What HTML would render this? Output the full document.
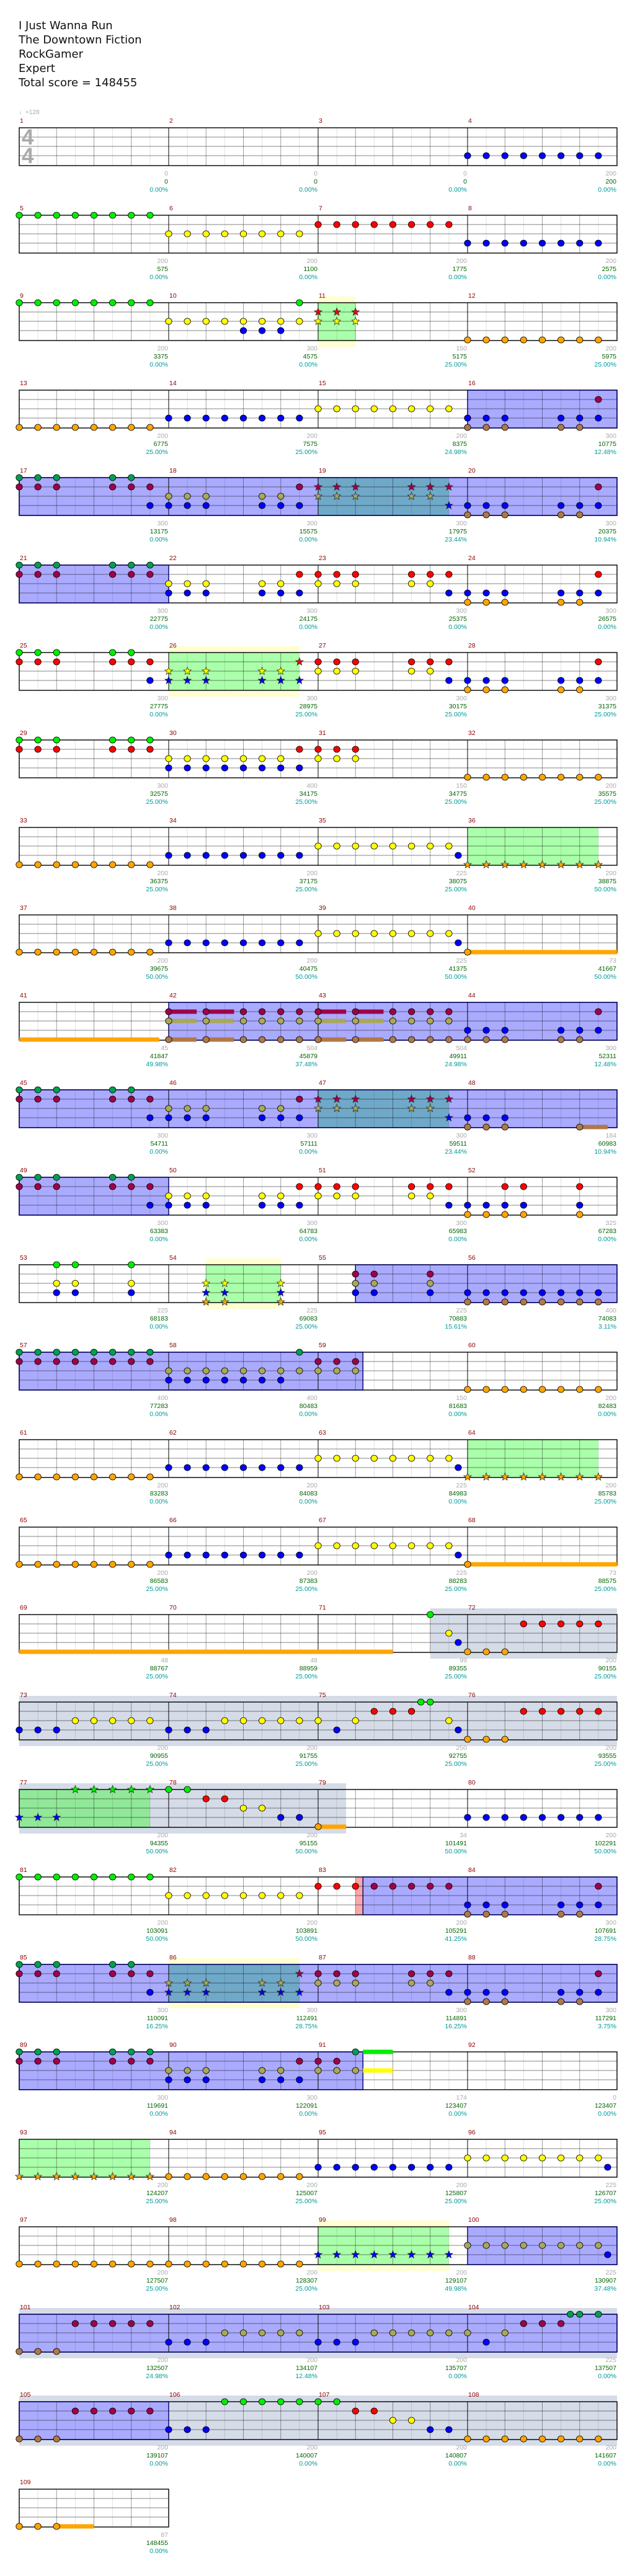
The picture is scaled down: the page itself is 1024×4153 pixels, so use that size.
<!DOCTYPE html>
<html><head><meta charset="utf-8">
<style>
html,body{margin:0;padding:0;background:#fff;}
body{width:1024px;height:4153px;position:relative;overflow:hidden;}
.title{position:absolute;left:30px;top:30px;font-family:"DejaVu Sans","Liberation Sans",sans-serif;font-size:18px;line-height:23px;color:#111;}
svg{position:absolute;left:0;top:0;}
</style></head>
<body>
<div class="title">I Just Wanna Run<br>The Downtown Fiction<br>RockGamer<br>Expert<br>Total score = 148455</div>
<svg id="s" width="1024" height="4153" xmlns="http://www.w3.org/2000/svg" font-family="Liberation Sans, sans-serif">
<text x="31" y="184" font-size="10" fill="#aaa">♩=128</text>
<text x="35" y="233" font-size="35" font-weight="bold" fill="#aaa">4</text>
<text x="35" y="263" font-size="35" font-weight="bold" fill="#aaa">4</text>
</svg>
<script>
const T=r=>206+141*r, X=p=>31+p*30.125;
const seq=(a,b)=>{let r=[];for(let i=a;i<=b;i++)r.push(i);return r};
const N=(l,arr,k)=>arr.map(p=>[l,p,k||'n']);
const off=(arr,o)=>arr.map(v=>v+o);
const P5=[0,1,2,5,6],P6=[0,1,2,5,6,7];
const A=o=>[...N(0,off(P5,o)),...N(1,off(P6,o)),...N(3,[7+o])];
const A2=o=>[...N(0,off(P6,o)),...N(1,off(P6,o))];
const B=o=>[...N(2,off(P5,o)),...N(3,off(P6,o)),...N(1,[7+o])];
const C=o=>[...N(1,off(P6,o)),...N(2,off(P5,o)),...N(3,[7+o])];
const D=o=>[...N(3,off(P6,o)),...N(4,off(P5,o)),...N(1,[7+o])];
const L=s=>s.split('|').map(x=>x.split(' '));
const STAR19=[...N(1,[16,17,18,21,22,23],'s'),...N(2,[16,17,18,21,22],'s'),...N(3,[23],'s')];
const STAR26=o=>[...N(2,off([0,1,2,5,6],o),'s'),...N(3,off([0,1,2,5,6,7],o),'s'),...N(1,[7+o],'s')];
const R8={reg:[['ph',24,31]],notes:[...N(4,seq(0,7)),...N(3,seq(8,15)),...N(2,seq(16,23)),...N(3,[23.5]),...N(4,seq(24,31),'s')]};
const R9={reg:[],sus:[[4,24,32]],notes:[...N(4,seq(0,7)),...N(3,seq(8,15)),...N(2,seq(16,23)),...N(3,[23.5]),...N(4,[24])]};
const ch10=[8,10,12,13,14,15,16,18,20,21,22,23];
const rows=[
{reg:[],notes:N(3,seq(24,31)),lab:L('0 0 0.00%|0 0 0.00%|0 0 0.00%|200 200 0.00%')},
{reg:[],notes:[...N(0,seq(0,7)),...N(2,seq(8,15)),...N(1,seq(16,23)),...N(3,seq(24,31))],lab:L('200 575 0.00%|200 1100 0.00%|200 1775 0.00%|200 2575 0.00%')},
{reg:[['band',16,18],['ph',16,18]],notes:[...N(0,seq(0,7)),...N(2,seq(8,15)),...N(3,[12,13,14]),...N(0,[15]),...N(1,[16,17,18],'s'),...N(2,[16,17,18],'s'),...N(4,seq(24,31))],lab:L('200 3375 0.00%|300 4575 0.00%|150 5175 25.00%|200 5975 25.00%')},
{reg:[['sp',24,32]],notes:[...N(4,seq(0,7)),...N(3,seq(8,15)),...N(2,seq(16,23)),...D(24)],lab:L('200 6775 25.00%|200 7575 25.00%|200 8375 24.98%|300 10775 12.48%')},
{reg:[['sp',0,32],['teal',16,23]],notes:[...A(0),...B(8),...STAR19,...D(24)],lab:L('300 13175 0.00%|300 15575 0.00%|300 17975 23.44%|300 20375 10.94%')},
{reg:[['sp',0,8]],notes:[...A2(0),...B(8),...C(16),...D(24)],lab:L('300 22775 0.00%|300 24175 0.00%|300 25375 0.00%|300 26575 0.00%')},
{reg:[['band',8,15],['ph',8,15]],notes:[...A(0),...STAR26(8),...C(16),...D(24)],lab:L('300 27775 0.00%|300 28975 25.00%|300 30175 25.00%|300 31375 25.00%')},
{reg:[],notes:[...A2(0),...N(2,seq(8,14)),...N(3,seq(8,15)),...N(1,[15,16,17,18]),...N(2,[16,17,18]),...N(4,seq(24,31))],lab:L('300 32575 25.00%|400 34175 25.00%|150 34775 25.00%|200 35575 25.00%')},
{...R8,lab:L('200 36375 25.00%|200 37175 25.00%|225 38075 25.00%|200 38875 50.00%')},
{...R9,lab:L('200 39675 50.00%|200 40475 50.00%|225 41375 50.00%|73 41667 50.00%')},
{reg:[['sp',8,32]],sus:[[4,0,7.5],[1,8,9.5],[2,8,9.5],[4,8,9.5],[1,10,11.5],[2,10,11.5],[4,10,11.5],[1,16,17.5],[2,16,17.5],[4,16,17.5],[1,18,19.5],[2,18,19.5],[4,18,19.5]],notes:[...N(1,ch10),...N(2,ch10),...N(4,ch10),...D(24)],lab:L('45 41847 49.98%|504 45879 37.48%|504 49911 24.98%|300 52311 12.48%')},
{reg:[['sp',0,32],['teal',16,23]],sus:[[4,30,31.5]],notes:[...A(0),...B(8),...STAR19,...N(3,[24,25,26]),...N(4,[24,25,26,30])],lab:L('300 54711 0.00%|300 57111 0.00%|300 59511 23.44%|184 60983 10.94%')},
{reg:[['sp',0,8]],notes:[...A(0),...B(8),...C(16),...N(3,[24,25,26,27,30]),...N(4,[24,25,26,27,30]),...N(1,[26,27,30])],lab:L('300 63383 0.00%|300 64783 0.00%|300 65983 0.00%|325 67283 0.00%')},
{reg:[['band',10,14],['ph',10,14],['sp',18,32]],notes:[...N(0,[2,3,6]),...N(2,[2,3,6]),...N(3,[2,3,6]),...N(2,[10,11,14],'s'),...N(3,[10,11,14],'s'),...N(4,[10,11,14],'s'),...N(1,[18,19,22]),...N(2,[18,19,22]),...N(3,[18,19,22]),...N(3,seq(24,31)),...N(4,seq(24,31))],lab:L('225 68183 0.00%|225 69083 25.00%|225 70883 15.61%|400 74083 3.11%')},
{reg:[['sp',0,18.4]],notes:[...N(0,seq(0,7)),...N(1,seq(0,7)),...N(2,seq(8,18)),...N(3,seq(8,14)),...N(0,[15]),...N(1,[16,17,18]),...N(4,seq(24,31))],lab:L('400 77283 0.00%|400 80483 0.00%|150 81683 0.00%|200 82483 0.00%')},
{...R8,lab:L('200 83283 0.00%|200 84083 0.00%|225 84983 0.00%|200 85783 25.00%')},
{...R9,lab:L('200 86583 25.00%|200 87383 25.00%|225 88283 25.00%|73 88575 25.00%')},
{reg:[['solo',22,32]],sus:[[4,0,20]],notes:[...N(0,[22]),...N(2,[23]),...N(3,[23.5]),...N(4,[24,25,26]),...N(1,seq(27,31))],lab:L('48 88767 25.00%|48 88959 25.00%|99 89355 25.00%|200 90155 25.00%')},
{reg:[['solo',0,32]],notes:[...N(3,[0,1,2]),...N(2,seq(3,7)),...N(3,[8,9,10]),...N(2,seq(11,16)),...N(3,[17]),...N(2,[18]),...N(1,[19,20,21]),...N(0,[21.5,22]),...N(2,[23]),...N(3,[23.5]),...N(4,[24,25,26]),...N(1,seq(27,31))],lab:L('200 90955 25.00%|200 91755 25.00%|250 92755 25.00%|200 93555 25.00%')},
{reg:[['solo',0,17.5],['ph2',0,7]],sus:[[4,16,17.5]],notes:[...N(3,[0,1,2],'s'),...N(0,seq(3,7),'s'),...N(0,[8,9]),...N(1,[10,11]),...N(2,[12,13]),...N(3,[14,15]),...N(4,[16]),...N(3,seq(24,31))],lab:L('200 94355 50.00%|200 95155 50.00%|34 101491 50.00%|200 102291 50.00%')},
{reg:[['pink',18,18.4],['sp',18.4,32]],notes:[...N(0,seq(0,7)),...N(2,seq(8,15)),...N(1,seq(16,23)),...D(24)],lab:L('200 103091 50.00%|200 103891 50.00%|200 105291 41.25%|300 107691 28.75%')},
{reg:[['band',8,15],['sp',0,32],['teal',8,15]],notes:[...A(0),...STAR26(8),...C(16),...D(24)],lab:L('300 110091 16.25%|300 112491 28.75%|300 114891 16.25%|300 117291 3.75%')},
{reg:[['sp',0,18.4]],sus:[[0,18.4,20,1],[2,18.4,20,1]],notes:[...A2(0),...B(8),...N(1,[16,17]),...N(2,[16,17,18]),...N(0,[18])],lab:L('300 119691 0.00%|300 122091 0.00%|174 123407 0.00%|0 123407 0.00%')},
{reg:[['ph',0,7]],notes:[...N(4,seq(0,7),'s'),...N(4,seq(8,15)),...N(3,seq(16,23)),...N(2,seq(24,31)),...N(3,[31.5])],lab:L('200 124207 25.00%|200 125007 25.00%|200 125807 25.00%|225 126707 25.00%')},
{reg:[['band',16,23],['ph',16,23],['sp',24,32]],notes:[...N(4,seq(0,15)),...N(3,seq(16,23),'s'),...N(2,seq(24,31)),...N(3,[31.5])],lab:L('200 127507 25.00%|200 128307 25.00%|200 129107 49.98%|225 130907 37.48%')},
{reg:[['solo',0,32],['sp',0,32]],notes:[...N(4,[0,1,2]),...N(1,seq(3,7)),...N(3,[8,9,10]),...N(2,seq(11,15)),...N(3,[16,17,18]),...N(2,seq(19,24)),...N(3,[25]),...N(2,[26]),...N(1,[27,28,29]),...N(0,[29.5,30,31])],lab:L('200 132507 24.98%|200 134107 12.48%|200 135707 0.00%|225 137507 0.00%')},
{reg:[['solo',0,32],['sp',0,8]],notes:[...N(4,[0,1,2]),...N(1,seq(3,7)),...N(3,[8,9,10]),...N(0,seq(11,17)),...N(1,[18,19]),...N(2,[20,21]),...N(3,[22,23]),...N(4,seq(24,31))],lab:L('200 139107 0.00%|200 140007 0.00%|200 140807 0.00%|200 141607 0.00%')},
{nm:1,reg:[],sus:[[4,2,4]],notes:N(4,[0,1,2]),lab:L('87 148455 0.00%')}
];
const COL=['#00ee00','#ff0000','#ffff00','#0000ff','#ffa500'];
const DIM=['#00a050','#a0004a','#a8a858','#0000ff','#b07848'];
const FILL={sp:'#aaaaff',ph:'#aaffaa',teal:'#70a8c8',ph2:'#90e898',pink:'#f8a8a8'};
let s='';
function star(cx,cy,r,fill){let p=[];for(let i=0;i<10;i++){const a=-Math.PI/2+i*Math.PI/5,rr=i%2?r*0.42:r;p.push((cx+rr*Math.cos(a)).toFixed(1)+','+(cy+rr*Math.sin(a)).toFixed(1));}return `<polygon points="${p.join(' ')}" fill="${fill}" stroke="#222" stroke-width="0.7"/>`;}
rows.forEach((R,r)=>{
 const t=T(r),nm=R.nm||4,x0=31,W=nm*241,xe=x0+W;
 const Xc=p=>Math.min(X(p),xe);
 s+=`<rect x="${x0}" y="${t}" width="${W}" height="61" fill="#fff"/>`;
 const sps=R.reg.filter(g=>g[0]=='sp');
 R.reg.forEach(g=>{ if(g[0]=='solo') s+=`<rect x="${X(g[1])}" y="${t-10}" width="${Xc(g[2])-X(g[1])}" height="81" fill="#d5dce8"/>`;
  if(g[0]=='band') s+=`<rect x="${X(g[1])}" y="${t-10}" width="${Xc(g[2])-X(g[1])}" height="81" fill="#ffffd0"/>`;});
 R.reg.forEach(g=>{ if(FILL[g[0]]) s+=`<rect x="${X(g[1])}" y="${t}" width="${Xc(g[2])-X(g[1])}" height="61" fill="${FILL[g[0]]}"/>`;});
 for(let k=1;k<nm*8;k++){const x=X(k);
  if(k%8==0) s+=`<line x1="${x}" y1="${t}" x2="${x}" y2="${t+61}" stroke="#000" stroke-width="1"/>`;
  else s+=`<line x1="${x}" y1="${t}" x2="${x}" y2="${t+61}" stroke="rgba(0,0,0,${k%2?0.12:0.38})" stroke-width="1"/>`;}
 for(let j=1;j<4;j++) s+=`<line x1="${x0}" y1="${t+15*j}" x2="${xe}" y2="${t+15*j}" stroke="rgba(0,0,0,0.38)" stroke-width="1.2"/>`;
 s+=`<rect x="${x0}" y="${t}" width="${W}" height="61" fill="none" stroke="#000" stroke-width="1.4"/>`;
 sps.forEach(g=>{s+=`<rect x="${X(g[1])}" y="${t}" width="${Xc(g[2])-X(g[1])}" height="61" fill="none" stroke="#000066" stroke-width="1.4"/>`;});
 const inSp=p=>sps.some(g=>p>=g[1]&&p<g[2]);
 const inTeal=p=>R.reg.some(g=>g[0]=='teal'&&p>=g[1]&&p<=g[2]);
 (R.sus||[]).forEach(u=>{const c=(!u[3]&&inSp(u[1]+0.01))?DIM[u[0]]:COL[u[0]];
  s+=`<rect x="${X(u[1])}" y="${t+u[0]*15-3.5}" width="${Xc(u[2])-X(u[1])}" height="7" fill="${c}"/>`;});
 R.notes.forEach(n=>{const [l,p,k]=n,cx=X(p),cy=t+l*15;
  if(k=='s'){s+=star(cx,cy,6.5,inTeal(p)?DIM[l]:COL[l]);}
  else{const c=inSp(p)?DIM[l]:COL[l];s+=`<ellipse cx="${cx}" cy="${cy}" rx="5.2" ry="5" fill="${c}" stroke="#000" stroke-width="0.8"/>`;}});
 for(let m=0;m<nm;m++){const mx=x0+m*241;
  s+=`<text x="${mx+1}" y="${t-8}" font-size="10.5" fill="#8b0000">${r*4+m+1}</text>`;
  const lb=R.lab[m],rx=mx+241-1;
  s+=`<text x="${rx}" y="${t+77}" font-size="10.5" fill="#aaa" text-anchor="end">${lb[0]}</text>`;
  s+=`<text x="${rx}" y="${t+90}" font-size="10.5" fill="#006400" text-anchor="end">${lb[1]}</text>`;
  s+=`<text x="${rx}" y="${t+103}" font-size="10.5" fill="#009999" text-anchor="end">${lb[2]}</text>`;}
});
const svg=document.getElementById('s');
const keep=svg.innerHTML;
svg.innerHTML=s+keep;
</script>
</body></html>
